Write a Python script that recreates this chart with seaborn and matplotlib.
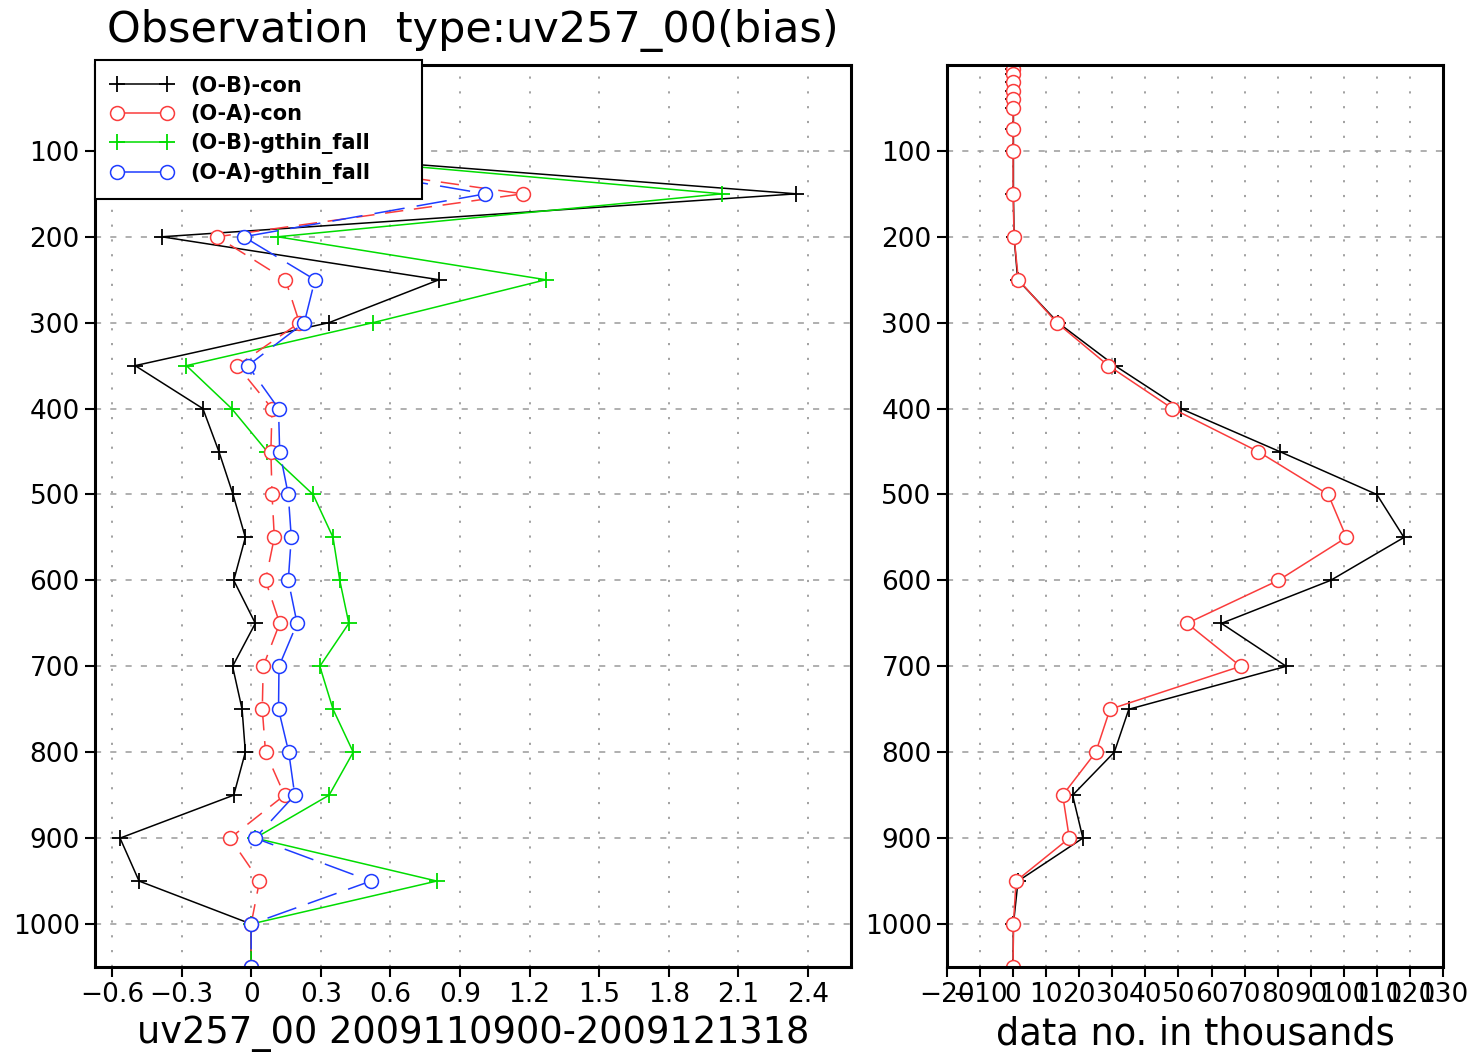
import matplotlib
matplotlib.use("Agg")
import matplotlib.pyplot as plt
from matplotlib.lines import Line2D
import pandas as pd
import seaborn as sns

# Pressure levels (hPa), top of the atmosphere first
levels = [0, 5, 10, 20, 30, 40, 50, 75, 100, 150, 200, 250, 300, 350, 400, 450,
          500, 550, 600, 650, 700, 750, 800, 850, 900, 950, 1000, 1050]

# Mean bias (m/s) per level
omb_con = [0.0, 0.0, 0.0, 0.0, 0.0, 0.0, 0.0, 0.0, -0.05, 2.35, -0.385, 0.81, 0.335,
           -0.50, -0.208, -0.139, -0.078, -0.025, -0.075, 0.018, -0.08, -0.039,
           -0.025, -0.075, -0.565, -0.483, 0.0, 0.0]
oma_con = [0.0, 0.0, 0.0, 0.0, 0.0, 0.0, 0.0, 0.0, -0.12, 1.17, -0.147, 0.148, 0.208,
           -0.06, 0.09, 0.085, 0.09, 0.10, 0.062, 0.123, 0.052, 0.048, 0.062, 0.144,
           -0.091, 0.036, 0.0, 0.0]
omb_gthin = [0.0, 0.0, 0.0, 0.0, 0.0, 0.0, 0.0, 0.0, -0.06, 2.03, 0.114, 1.27, 0.525,
             -0.279, -0.084, 0.069, 0.267, 0.353, 0.382, 0.421, 0.296, 0.353, 0.44,
             0.336, 0.017, 0.80, 0.0, 0.0]
oma_gthin = [0.0, 0.0, 0.0, 0.0, 0.0, 0.0, 0.0, 0.0, -0.07, 1.01, -0.032, 0.275, 0.229,
             -0.014, 0.118, 0.123, 0.16, 0.173, 0.16, 0.198, 0.12, 0.118, 0.162, 0.188,
             0.017, 0.516, 0.0, 0.0]

# Number of observations per level (thousands)
nobs_ges = [0.1, 0.1, 0.1, 0.1, 0.1, 0.1, 0.1, 0.1, 0.1, 0.1, 0.3, 1.4, 13.6, 30.8,
            50.7, 80.6, 110.0, 118.2, 96.0, 63.0, 82.6, 35.0, 30.6, 18.0, 21.1, 1.5,
            0.1, 0.0]
nobs_anl = [0.0, 0.0, 0.0, 0.0, 0.0, 0.0, 0.0, 0.0, 0.0, 0.0, 0.3, 1.6, 13.2, 28.8,
            48.2, 74.1, 95.3, 100.8, 80.2, 52.6, 68.8, 29.3, 25.0, 15.0, 17.0, 0.9,
            0.1, 0.0]

series_labels = ["(O-B)-con", "(O-A)-con", "(O-B)-gthin_fall", "(O-A)-gthin_fall"]

bias_ticks = [-0.6, -0.3, 0.0, 0.3, 0.6, 0.9, 1.2, 1.5, 1.8, 2.1, 2.4]
bias_tick_labels = ["\u22120.6", "\u22120.3", "0", "0.3", "0.6", "0.9", "1.2",
                    "1.5", "1.8", "2.1", "2.4"]
count_ticks = [-20, -10, 0, 10, 20, 30, 40, 50, 60, 70, 80, 90, 100, 110, 120, 130]
count_tick_labels = ["\u221220", "\u221210", "0", "10", "20", "30", "40", "50", "60",
                     "70", "80", "90", "100", "110", "120", "130"]
pressure_ticks = [100, 200, 300, 400, 500, 600, 700, 800, 900, 1000]
pressure_tick_labels = ["100", "200", "300", "400", "500", "600", "700", "800",
                        "900", "1000"]

title_text = "Observation  type:uv257_00(bias)"
bias_xlabel = "uv257_00 2009110900-2009121318"
count_xlabel = "data no. in thousands"

# GrADS-like colours
BLACK = "#000000"
RED = "#fa3c3c"
GREEN = "#00dc00"
BLUE = "#1e3cff"

sns.set_theme(style="ticks")
plt.rcParams["font.family"] = ["DejaVu Sans"]
plt.rcParams["text.color"] = BLACK
plt.rcParams["axes.labelcolor"] = BLACK

bias_df = pd.DataFrame({
    "level": levels,
    "omb_con": omb_con,
    "oma_con": oma_con,
    "omb_gthin": omb_gthin,
    "oma_gthin": oma_gthin,
})
count_df = pd.DataFrame({"level": levels, "ges": nobs_ges, "anl": nobs_anl})

fig = plt.figure(figsize=(14.75, 10.53), dpi=100)
ax1 = fig.add_axes([0.0644, 0.0817, 0.5125, 0.8566])
ax2 = fig.add_axes([0.6420, 0.0817, 0.3363, 0.8566])

common = dict(estimator=None, sort=False, orient="y", lw=1.1)
plus_kw = dict(marker="+", markersize=12, markeredgewidth=1.3)
circ_kw = dict(marker="o", markersize=10, markeredgewidth=1.1, markerfacecolor="white")

# --- bias profiles
sns.lineplot(data=bias_df, x="omb_con", y="level", ax=ax1, color=BLACK,
             markeredgecolor=BLACK, **plus_kw, **common)
sns.lineplot(data=bias_df, x="omb_gthin", y="level", ax=ax1, color=GREEN,
             markeredgecolor=GREEN, **plus_kw, **common)
sns.lineplot(data=bias_df, x="oma_con", y="level", ax=ax1, color=RED,
             markeredgecolor=RED, linestyle=(0, (12, 7)), **circ_kw, **common)
sns.lineplot(data=bias_df, x="oma_gthin", y="level", ax=ax1, color=BLUE,
             markeredgecolor=BLUE, linestyle=(0, (20, 8)), **circ_kw, **common)

# --- observation counts
sns.lineplot(data=count_df, x="ges", y="level", ax=ax2, color=BLACK,
             markeredgecolor=BLACK, **plus_kw, **common)
sns.lineplot(data=count_df, x="anl", y="level", ax=ax2, color=RED,
             markeredgecolor=RED, **circ_kw, **common)

for ax, xt, xtl, xlim, xlab in [
    (ax1, bias_ticks, bias_tick_labels, (-0.673, 2.585), bias_xlabel),
    (ax2, count_ticks, count_tick_labels, (-20, 130), count_xlabel),
]:
    ax.set_xlim(*xlim)
    ax.set_ylim(1050, 0)
    ax.set_xticks(xt, xtl)
    ax.set_yticks(pressure_ticks, pressure_tick_labels)
    ax.set_ylabel("")
    ax.set_xlabel(xlab, fontsize=26.5, labelpad=5, color=BLACK)
    ax.tick_params(axis="both", direction="out", length=7, width=1.5,
                   labelsize=19, colors=BLACK, pad=4)
    ax.xaxis.grid(True, linestyle=(0, (1.2, 7)), color="#9a9a9a", lw=1.3)
    ax.yaxis.grid(True, linestyle=(0, (4, 6)), color="#9a9a9a", lw=1.1)
    for sp in ax.spines.values():
        sp.set_visible(True)
        sp.set_linewidth(2.2)
        sp.set_color(BLACK)

handles = [
    Line2D([], [], color=BLACK, lw=1.1, marker="+", markersize=12, markeredgewidth=1.3),
    Line2D([], [], color=RED, lw=1.1, marker="o", markersize=10, markeredgewidth=1.1,
           markerfacecolor="white"),
    Line2D([], [], color=GREEN, lw=1.1, marker="+", markersize=12, markeredgewidth=1.3),
    Line2D([], [], color=BLUE, lw=1.1, marker="o", markersize=10, markeredgewidth=1.1,
           markerfacecolor="white"),
]
leg = ax1.legend(handles, series_labels, loc="upper left",
                 bbox_to_anchor=(95 / 1475, 1 - 60 / 1053, 327 / 1475, 0),
                 bbox_transform=fig.transFigure, mode="expand", borderaxespad=0,
                 numpoints=2, handlelength=3.0, handletextpad=0.8, labelspacing=0.42,
                 borderpad=0.75, prop={"size": 15, "weight": "bold"},
                 fancybox=False, framealpha=1, edgecolor=BLACK)
leg.get_frame().set_linewidth(1.5)

fig.text(473 / 1475, 1 - 30 / 1053, title_text, ha="center", va="center",
         fontsize=31, color=BLACK)

fig.savefig("out.png", dpi=100)
